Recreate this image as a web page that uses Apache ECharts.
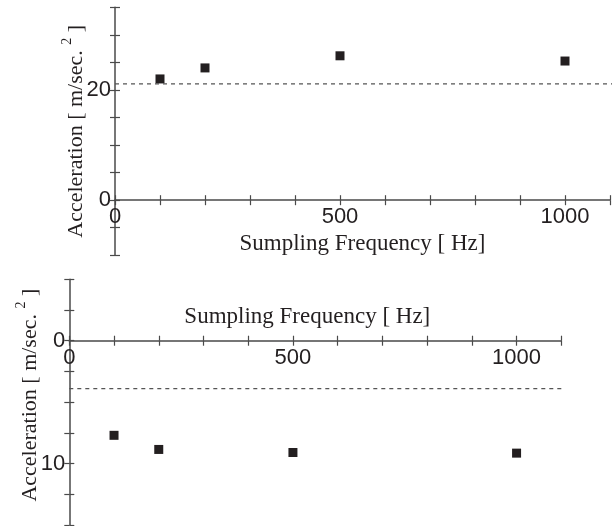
<!DOCTYPE html>
<html>
<head>
<meta charset="utf-8">
<script src="https://cdn.jsdelivr.net/npm/echarts@6/dist/echarts.min.js"></script>
<style>
html,body{margin:0;padding:0;background:#fff;}
#chart{width:614px;height:526px;}
</style>
</head>
<body>
<div id="chart"></div>
<script>
// ---- data ----
const freqs = [100, 200, 500, 1000];
const accelTop = [22.0, 24.0, 26.2, 25.25];
const accelBottom = [7.7, 8.85, 9.1, 9.15];
const refTop = 21.1;
const refBottom = 3.9;
const refTopX = [0, 1110];
const refBottomX = [0, 1100];
const xTickLabels = [0, 500, 1000];
const topYTickLabels = [0, 20];
const bottomYTickLabels = [0, 10];
const xTitle = 'Sumpling Frequency [ Hz]';

// axis ranges
const xRange = {min: 0, max: 1100, interval: 100};
const topY = {min: -10, max: 35, interval: 5, inverse: false};
const botY = {min: -5, max: 15, interval: 2.5, inverse: true};

const H = 526;
const axisColor = '#4a4a4a';
const textColor = '#231f20';
const labelFont = "'Liberation Sans', Arial, sans-serif";
const serifFont = "'Liberation Serif', 'Times New Roman', serif";

const yName = '{a|Acceleration [ m/sec. }{s|2}{a| ]}';
function yNameStyle(padding) {
  return {
    color: textColor, fontFamily: serifFont, fontSize: 22, padding: padding,
    rich: {
      a: {fontFamily: serifFont, fontSize: 22, color: textColor, lineHeight: 27, verticalAlign: 'bottom'},
      s: {fontFamily: serifFont, fontSize: 14, color: textColor, lineHeight: 27, verticalAlign: 'top'}
    }
  };
}

function pick(list) {
  return function (v) { return list.indexOf(v) >= 0 ? String(v) : ''; };
}

function gridAt(l, r, t, b) {
  return {left: l, right: r, top: t, bottom: b, outerBoundsMode: 'none', containLabel: false};
}
const topBox = {left: 115, right: 4, top: 7.3, bottom: 270.7};
const botBox = {left: 69.3, right: 52.7, top: 279.3, bottom: 1};

// offset (px) that moves the x axis from the grid bottom to value 0 of the y scale
function zeroOffset(box, y) {
  const h = H - box.top - box.bottom;
  const frac = y.inverse ? (0 - y.min) / (y.max - y.min) : (y.max - 0) / (y.max - y.min);
  const zeroPx = box.top + frac * h;
  return -((H - box.bottom) - zeroPx);
}

const grids = [
  gridAt(topBox.left, topBox.right, topBox.top, topBox.bottom),
  gridAt(topBox.left, topBox.right, topBox.top, topBox.bottom),
  gridAt(botBox.left, botBox.right, botBox.top, botBox.bottom),
  gridAt(botBox.left, botBox.right, botBox.top, botBox.bottom)
];

function mainX(gi, offset, nameGap, padding) {
  return {
    type: 'value', gridIndex: gi, min: xRange.min, max: xRange.max, interval: xRange.interval,
    position: 'bottom', offset: offset,
    axisLine: {show: true, onZero: false, lineStyle: {color: axisColor, width: 1.5}},
    axisTick: {show: true, inside: false, length: 5, lineStyle: {color: axisColor, width: 1.2}},
    axisLabel: {show: true, margin: 6, formatter: pick(xTickLabels), color: textColor,
      fontFamily: labelFont, fontSize: 22, showMinLabel: true, showMaxLabel: true},
    splitLine: {show: false},
    name: xTitle, nameLocation: 'middle', nameGap: nameGap, nameMoveOverlap: false,
    nameTextStyle: {color: textColor, fontFamily: serifFont, fontSize: 23, padding: padding}
  };
}
function overlayX(gi, offset) {
  return {
    type: 'value', gridIndex: gi, min: xRange.min, max: xRange.max, interval: xRange.interval,
    position: 'bottom', offset: offset,
    axisLine: {show: false, onZero: false},
    axisTick: {show: true, inside: true, length: 5, lineStyle: {color: axisColor, width: 1.2}},
    axisLabel: {show: false}, splitLine: {show: false}
  };
}
function mainY(gi, y, labels, nameGap, padding) {
  return {
    type: 'value', gridIndex: gi, min: y.min, max: y.max, interval: y.interval, inverse: y.inverse,
    axisLine: {show: true, onZero: false, lineStyle: {color: axisColor, width: 1.5}},
    axisTick: {show: true, inside: false, length: 5, lineStyle: {color: axisColor, width: 1.2}},
    axisLabel: {show: true, margin: 4, formatter: pick(labels), color: textColor,
      fontFamily: labelFont, fontSize: 22, showMinLabel: true, showMaxLabel: true},
    splitLine: {show: false},
    name: yName, nameLocation: 'middle', nameGap: nameGap, nameRotate: 90, nameMoveOverlap: false,
    nameTextStyle: yNameStyle(padding)
  };
}
function overlayY(gi, y) {
  return {
    type: 'value', gridIndex: gi, min: y.min, max: y.max, interval: y.interval, inverse: y.inverse,
    axisLine: {show: false, onZero: false},
    axisTick: {show: true, inside: true, length: 5, lineStyle: {color: axisColor, width: 1.2}},
    axisLabel: {show: false}, splitLine: {show: false}
  };
}

const topOff = zeroOffset(topBox, topY);
const botOff = zeroOffset(botBox, botY);

const option = {
  animation: false,
  backgroundColor: '#ffffff',
  grid: grids,
  xAxis: [
    mainX(0, topOff, 32, [0, 0, 0, 0]), overlayX(1, topOff),
    mainX(2, botOff, -35, [0, 16, 0, 0]), overlayX(3, botOff)
  ],
  yAxis: [
    mainY(0, topY, topYTickLabels, 28, [0, 0, 0, 0]),
    overlayY(1, topY),
    mainY(2, botY, bottomYTickLabels, 28, [0, 0, 0, 14]),
    overlayY(3, botY)
  ],
  series: [
    {
      type: 'line', xAxisIndex: 0, yAxisIndex: 0, clip: false, symbol: 'none', silent: true,
      data: refTopX.map(function (x) { return [x, refTop]; }),
      lineStyle: {type: [4, 4], width: 1.3, color: '#555'}
    },
    {
      type: 'scatter', xAxisIndex: 0, yAxisIndex: 0, symbol: 'rect', symbolSize: 9,
      itemStyle: {color: textColor, opacity: 1},
      data: freqs.map(function (f, i) { return [f, accelTop[i]]; })
    },
    {
      type: 'line', xAxisIndex: 2, yAxisIndex: 2, clip: false, symbol: 'none', silent: true,
      data: refBottomX.map(function (x) { return [x, refBottom]; }),
      lineStyle: {type: [4, 4], width: 1.3, color: '#555'}
    },
    {
      type: 'scatter', xAxisIndex: 2, yAxisIndex: 2, symbol: 'rect', symbolSize: 9,
      itemStyle: {color: textColor, opacity: 1},
      data: freqs.map(function (f, i) { return [f, accelBottom[i]]; })
    }
  ]
};

const chart = echarts.init(document.getElementById('chart'), null, {renderer: 'canvas'});
chart.setOption(option);
</script>
</body>
</html>
